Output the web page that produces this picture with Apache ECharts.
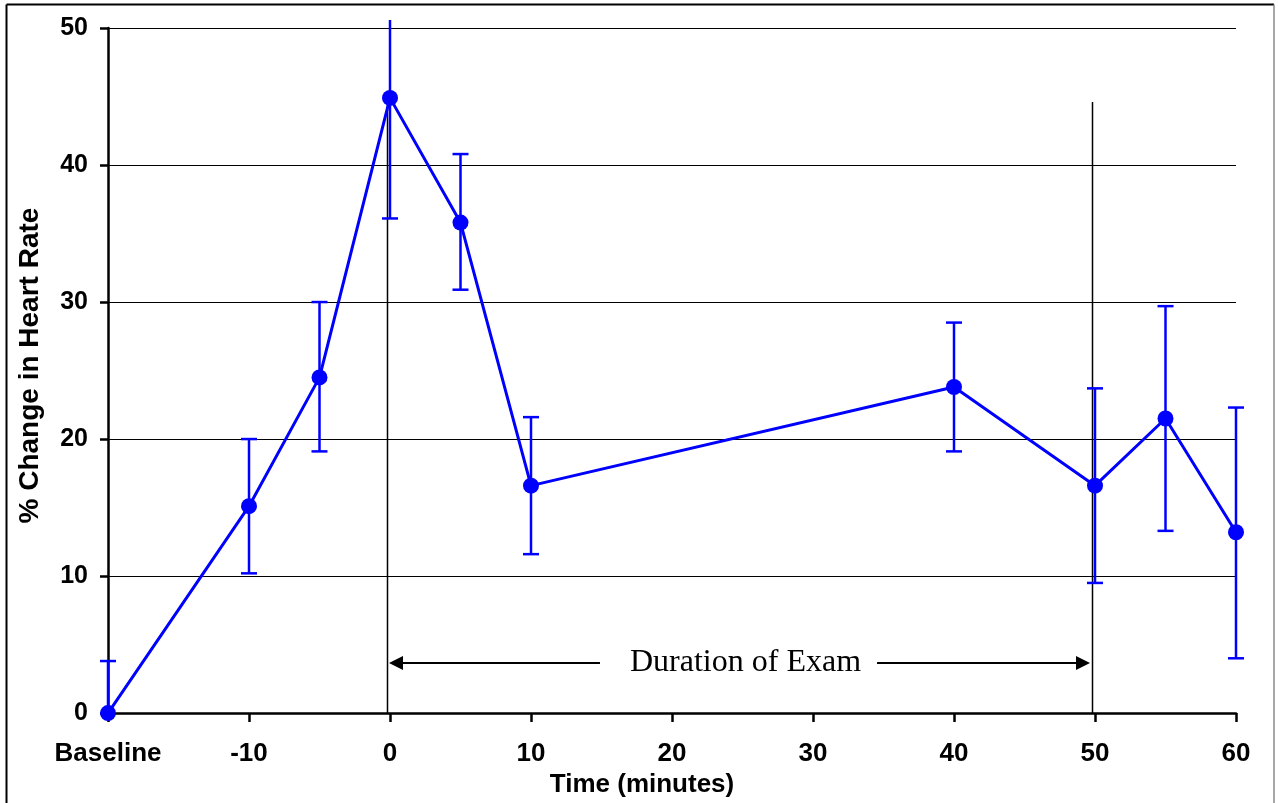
<!DOCTYPE html>
<html>
<head>
<meta charset="utf-8">
<script src="https://cdn.jsdelivr.net/npm/echarts@6/dist/echarts.min.js"></script>
<style>
  html, body { margin: 0; padding: 0; background: #fff; }
  #chart { width: 1278px; height: 803px; }
</style>
</head>
<body>
<div id="chart"></div>
<script>
// time points (Baseline drawn at -20)
const times = [-20, -10, -5, 0, 5, 10, 40, 50, 55, 60];
const hrChange = [0, 15.1, 24.5, 44.9, 35.8, 16.6, 23.8, 16.6, 21.5, 13.2];
const errLow = [-3.8, 10.2, 19.1, 36.1, 30.9, 11.6, 19.1, 9.5, 13.3, 4.0];
const errHigh = [3.8, 20.0, 30.0, 53.7, 40.8, 21.6, 28.5, 23.7, 29.7, 22.3];
const xTicks = { '-20': 'Baseline' };
const examLines = [[0, 44.8], [50, 44.6]];
const examArrow = [[0, 50, 3.65]];
const examText = 'Duration of Exam';

const chart = echarts.init(document.getElementById('chart'));

const errData = times.map((t, i) => [t, errLow[i], errHigh[i]]);

const option = {
  animation: false,
  backgroundColor: '#fff',
  grid: { left: 108, right: 42, top: 28, bottom: 88 },
  graphic: [
    { type: 'line', shape: { x1: 6.5, y1: 4.5, x2: 1274, y2: 4.5 }, style: { stroke: '#000', lineWidth: 2 } },
    { type: 'line', shape: { x1: 6.5, y1: 4.5, x2: 6.5, y2: 803 }, style: { stroke: '#000', lineWidth: 2 } },
    { type: 'line', shape: { x1: 1274, y1: 4.5, x2: 1274, y2: 803 }, style: { stroke: '#888', lineWidth: 1.5 } }
  ],
  xAxis: {
    type: 'value',
    min: -20, max: 60, interval: 10,
    name: 'Time (minutes)',
    nameLocation: 'middle',
    nameGap: 52,
    nameTextStyle: { fontFamily: 'Liberation Sans', fontWeight: 'bold', fontSize: 26, color: '#000', padding: [0, 60, 0, 0] },
    axisLine: { onZero: false, lineStyle: { color: '#000', width: 2.5 } },
    axisTick: { show: true, length: 9, lineStyle: { color: '#000', width: 2.5 } },
    axisLabel: {
      margin: 28,
      fontFamily: 'Liberation Sans', fontWeight: 'bold', fontSize: 26, color: '#000',
      formatter: v => xTicks[v] || String(v)
    },
    splitLine: { show: false }
  },
  yAxis: {
    type: 'value',
    min: 0, max: 50, interval: 10,
    name: '% Change in Heart Rate',
    nameLocation: 'middle',
    nameGap: 64,
    nameTextStyle: { fontFamily: 'Liberation Sans', fontWeight: 'bold', fontSize: 28, color: '#000', padding: [0, 0, 0, 10] },
    axisLine: { show: true, onZero: false, lineStyle: { color: '#000', width: 2.5 } },
    axisTick: { show: true, length: 8, lineStyle: { color: '#000', width: 2.5 } },
    axisLabel: { margin: 20, fontFamily: 'Liberation Sans', fontWeight: 'bold', fontSize: 25, color: '#000' },
    splitLine: { show: true, lineStyle: { color: '#000', width: 1 } }
  },
  series: [
    {
      type: 'custom',
      name: 'exam',
      data: examLines,
      z: 1,
      renderItem: (params, api) => {
        const bottom = api.coord([api.value(0), 0]);
        const top = api.coord([api.value(0), api.value(1)]);
        return {
          type: 'line',
          shape: { x1: bottom[0] - 2.5, y1: bottom[1], x2: top[0] - 2.5, y2: top[1] },
          style: { stroke: '#000', lineWidth: 1.5 }
        };
      }
    },
    {
      type: 'custom',
      name: 'arrow',
      data: examArrow,
      z: 2,
      renderItem: (params, api) => {
        const a = api.coord([api.value(0), api.value(2)]);
        const b = api.coord([api.value(1), api.value(2)]);
        const y = a[1];
        const x1 = a[0] - 1, x2 = b[0] - 5;
        const hl = 14, hw = 7;
        const cx = (x1 + x2) / 2 - 1;
        return {
          type: 'group',
          children: [
            { type: 'line', shape: { x1: x1 + hl, y1: y, x2: x2 - hl, y2: y }, style: { stroke: '#000', lineWidth: 2 } },
            { type: 'polygon', shape: { points: [[x1, y], [x1 + hl, y - hw], [x1 + hl, y + hw]] }, style: { fill: '#000' } },
            { type: 'polygon', shape: { points: [[x2, y], [x2 - hl, y - hw], [x2 - hl, y + hw]] }, style: { fill: '#000' } },
            {
              type: 'text',
              x: cx, y: y,
              style: {
                text: examText,
                font: '32px "Liberation Serif"',
                fill: '#000',
                align: 'center',
                verticalAlign: 'middle',
                backgroundColor: '#fff',
                padding: [0, 16, 0, 30]
              }
            }
          ]
        };
      }
    },
    {
      type: 'custom',
      name: 'err',
      data: errData,
      z: 3,
      renderItem: (params, api) => {
        const x = api.value(0);
        let lo = api.coord([x, api.value(1)]);
        let hi = api.coord([x, api.value(2)]);
        const topLimit = params.coordSys.y - 8;
        const bottomLimit = params.coordSys.y + params.coordSys.height;
        let hiClip = false, loClip = false;
        if (hi[1] < topLimit) { hi = [hi[0], topLimit]; hiClip = true; }
        if (lo[1] > bottomLimit) { lo = [lo[0], bottomLimit]; loClip = true; }
        const hw = 8;
        const style = { stroke: '#0000ff', lineWidth: 2.5 };
        const children = [
          { type: 'line', shape: { x1: lo[0], y1: lo[1], x2: hi[0], y2: hi[1] }, style }
        ];
        if (!loClip) {
          children.push({ type: 'line', shape: { x1: lo[0] - hw, y1: lo[1], x2: lo[0] + hw, y2: lo[1] }, style });
        }
        if (!hiClip) {
          children.push({ type: 'line', shape: { x1: hi[0] - hw, y1: hi[1], x2: hi[0] + hw, y2: hi[1] }, style });
        }
        return { type: 'group', children };
      }
    },
    {
      type: 'line',
      name: 'hr',
      data: times.map((t, i) => [t, hrChange[i]]),
      z: 4,
      symbol: 'circle',
      symbolSize: 16,
      itemStyle: { color: '#0000ff' },
      lineStyle: { color: '#0000ff', width: 3 }
    }
  ]
};

chart.setOption(option);
</script>
</body>
</html>
